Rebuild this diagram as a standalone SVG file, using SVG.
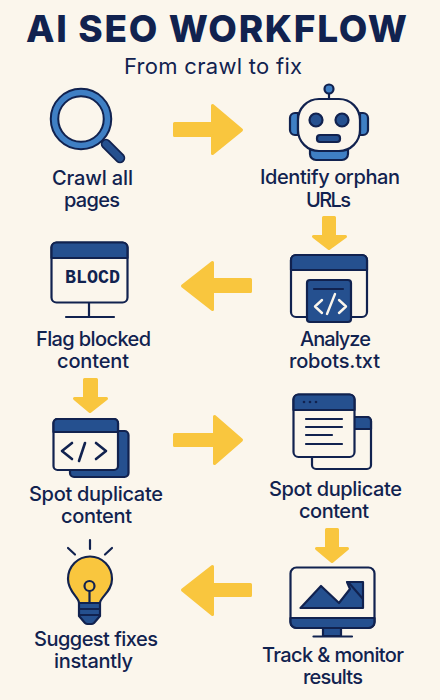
<svg xmlns="http://www.w3.org/2000/svg" width="440" height="700" viewBox="0 0 440 700">
<style>
text{font-family:"Inter","Liberation Sans",sans-serif;fill:#11224f}
.t{font-size:37px;font-weight:800}
.s{font-size:22px;font-weight:400}
.l{font-size:20px;font-weight:500}
.a{fill:#f9c63e;stroke:#f9c63e;stroke-width:3;stroke-linejoin:round}
.o{stroke:#11224f;stroke-width:2.2;stroke-linejoin:round;stroke-linecap:round}
.n{fill:none}
.c{fill:#fbf6ec}
.d{fill:#25508f}
.b{fill:#3f7fc4}
.y{fill:#f9c63e}
.k{fill:#11224f}
</style>
<rect width="440" height="700" fill="#fbf6ec"/>
<g id="title">
<text class="t" x="26" y="42" textLength="381">AI SEO WORKFLOW</text>
<text class="s" x="124" y="74" textLength="178">From crawl to fix</text>
</g>
<g id="connectors">
<polygon class="a" points="174.500,123.500 212.500,123.500 212.500,105.500 241.500,130 212.500,153.500 212.500,135.500 174.500,135.500"/>
<polygon class="a" points="323.500,217.500 334.500,217.500 334.500,236.500 345.500,236.500 329,248.500 313.500,236.500 323.500,236.500"/>
<polygon class="a" points="250.500,279.500 212.500,279.500 212.500,262.500 182.500,286 212.500,309.500 212.500,291.500 250.500,291.500"/>
<polygon class="a" points="84.500,379.500 96.500,379.500 96.500,398.500 106.500,398.500 90,411.500 74.500,398.500 84.500,398.500"/>
<polygon class="a" points="174.500,434.500 214.500,434.500 214.500,416.500 241.500,440 214.500,463.500 214.500,445.500 174.500,445.500"/>
<polygon class="a" points="326.500,529.500 337.500,529.500 337.500,548.500 347.500,548.500 332,561.500 316.500,548.500 326.500,548.500"/>
<polygon class="a" points="250.500,584.500 212.500,584.500 212.500,566.500 182.500,590 212.500,614.500 212.500,595.500 250.500,595.500"/>
</g>
<g id="crawl">
<line x1="106" y1="144" x2="120" y2="158" stroke="#11224f" stroke-width="10.500" stroke-linecap="round"/>
<line x1="106" y1="144" x2="120" y2="158" stroke="#25508f" stroke-width="7" stroke-linecap="round"/>
<circle cx="81" cy="119" r="26.500" fill="#fbf6ec" stroke="#11224f" stroke-width="9.500"/>
<circle cx="81" cy="119" r="26.500" fill="none" stroke="#3f7fc4" stroke-width="5.500"/>
<text class="l" x="52" y="185" textLength="81">Crawl all</text>
<text class="l" x="64" y="207" textLength="56">pages</text>
</g>
<g id="orphan">
<path class="o b" d="M298 113h-3a5 5 0 0 0-5 5v12a5 5 0 0 0 5 5h3z"/>
<path class="o b" d="M360 113h3a5 5 0 0 1 5 5v12a5 5 0 0 1-5 5h-3z"/>
<path class="o b" d="M310 149v5a6 6 0 0 0 6 6h26a6 6 0 0 0 6-6v-5z"/>
<rect class="o c" x="298" y="99" width="62" height="52" rx="21"/>
<line class="o" x1="329" y1="94" x2="329" y2="99"/>
<circle class="o b" cx="329" cy="89" r="4.500"/>
<circle class="o d" cx="316" cy="120" r="6.500"/>
<circle class="o d" cx="342" cy="120" r="6.500"/>
<rect class="o d" x="317" y="135" width="23" height="7" rx="3"/>
<text class="l" x="260" y="184" textLength="140">Identify orphan</text>
<text class="l" x="306" y="207" textLength="45">URLs</text>
</g>
<g id="robots">
<rect class="o c" x="291" y="255" width="76" height="62" rx="5"/>
<path class="o d" d="M291 270v-10a5 5 0 0 1 5-5h66a5 5 0 0 1 5 5v10z"/>
<rect class="o d" x="307" y="280" width="44" height="42" rx="3"/>
<line class="o" x1="314" y1="289" x2="343" y2="289"/>
<path d="M322 300l-7 6.500 7 6.500M339 300l7 6.500-7 6.500M335 294l-8 20" fill="none" stroke="#fbf6ec" stroke-width="2.400" stroke-linecap="round" stroke-linejoin="round"/>
<text class="l" x="300" y="346" textLength="71">Analyze</text>
<text class="l" x="289" y="368" textLength="91">robots.txt</text>
</g>
<g id="blocked">
<rect class="o c" x="51.500" y="242.500" width="76" height="60" rx="5"/>
<path class="o d" d="M51.500 258v-10.500a5 5 0 0 1 5-5h66a5 5 0 0 1 5 5v10.500z"/>
<line class="o" x1="89" y1="303" x2="89" y2="317"/>
<line class="o" x1="66" y1="317" x2="114" y2="317"/>
<text x="65" y="282.500" textLength="55" lengthAdjust="spacingAndGlyphs" style="font-family:'Liberation Mono',monospace;font-size:20px;font-weight:700">BLOCD</text>
<text class="l" x="36" y="346" textLength="115">Flag blocked</text>
<text class="l" x="57" y="368" textLength="72">content</text>
</g>
<g id="duplicate-left">
<rect class="o d" x="70" y="431" width="58.500" height="46" rx="4"/>
<rect class="o c" x="53.500" y="419" width="64.500" height="51" rx="4"/>
<path class="o d" d="M53.500 432v-9a4 4 0 0 1 4-4h56.500a4 4 0 0 1 4 4v9z"/>
<path class="n" d="M72 443l-10 8 10 8M96 443l10 8-10 8M85 443l-6 18" stroke="#11224f" stroke-width="2.600" stroke-linecap="round" stroke-linejoin="round"/>
<text class="l" x="29" y="501" textLength="134">Spot duplicate</text>
<text class="l" x="61" y="523" textLength="71">content</text>
</g>
<g id="duplicate-right">
<rect class="o c" x="312" y="417" width="59" height="52" rx="4"/>
<path class="o d" d="M350 429v-12h17a4 4 0 0 1 4 4v8z"/>
<rect class="o c" x="293.500" y="394.500" width="61" height="62.500" rx="5"/>
<path class="o d" d="M293.500 410v-10.500a5 5 0 0 1 5-5h51a5 5 0 0 1 5 5v10.500z"/>
<circle class="k" cx="304" cy="402" r="1.300"/><circle class="k" cx="310" cy="402" r="1.300"/><circle class="k" cx="316" cy="402" r="1.300"/>
<path class="n" d="M306 419h36M306 427h36M306 435h26M306 444h36" stroke="#11224f" stroke-width="2.200" stroke-linecap="round"/>
<text class="l" x="269" y="496" textLength="133">Spot duplicate</text>
<text class="l" x="299" y="518" textLength="70">content</text>
</g>
<g id="fixes">
<path class="n" d="M90 540v9M68 548l7 6.500M112 548l-7 6.500" stroke="#11224f" stroke-width="2.200" stroke-linecap="round"/>
<path class="o d" d="M79 603h21v13l-6 7a4 4 0 0 1-3 1h-3a4 4 0 0 1-3-1l-6-7z"/>
<path class="n" d="M79 609h21M79 615h21" stroke="#11224f" stroke-width="1.800"/>
<path class="o y" d="M79 603c0-6-11-11-11-24a22 22.500 0 0 1 44 0c0 13-12 18-12 24z"/>
<line class="o" x1="89.500" y1="591" x2="89.500" y2="603"/>
<circle class="o y" cx="89.500" cy="586" r="5"/>
<text class="l" x="34" y="646" textLength="124">Suggest fixes</text>
<text class="l" x="54" y="668" textLength="79">instantly</text>
</g>
<g id="monitor">
<rect class="o d" x="323" y="627" width="18" height="9"/>
<line class="o" x1="313.500" y1="636.500" x2="352" y2="636.500"/>
<rect class="o c" x="290.500" y="567.500" width="84" height="60.500" rx="6"/>
<path class="o d" d="M290.500 618h84v4a6 6 0 0 1-6 6h-72a6 6 0 0 1-6-6z"/>
<path class="o d" d="M300.500 608l20.500-22 18 17 11-14-3-7h16v26z"/>
<path class="n" d="M349 583l14 16" stroke="#11224f" stroke-width="2"/>
<text class="l" x="262" y="662" textLength="142">Track &amp; monitor</text>
<text class="l" x="303" y="684" textLength="60">results</text>
</g>
</svg>
